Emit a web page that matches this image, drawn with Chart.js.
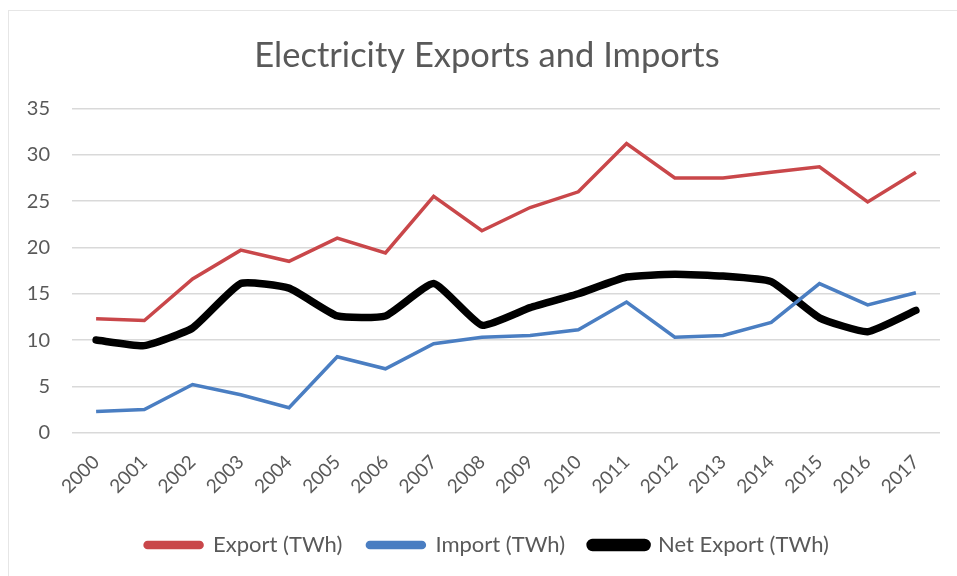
<!DOCTYPE html>
<html>
<head>
<meta charset="utf-8">
<script src="https://cdn.jsdelivr.net/npm/chart.js@4"></script>
<style>
  html, body { margin: 0; padding: 0; background: #fff; overflow: hidden; }
  #wrap { width: 957px; height: 576px; position: relative; }
  #frame { position: absolute; left: 8px; top: 10px; width: 980px; height: 600px;
           border: 1px solid #e6e6e6; box-sizing: border-box; pointer-events: none; }
</style>
</head>
<body>
<div id="wrap"><canvas id="chart"></canvas><div id="frame"></div></div>
<script>
const years = ['2000', '2001', '2002', '2003', '2004', '2005', '2006', '2007', '2008',
    '2009', '2010', '2011', '2012', '2013', '2014', '2015', '2016', '2017'];
const exportTWh = [12.3, 12.1, 16.6, 19.7, 18.5, 21.0, 19.4, 25.5, 21.8,
    24.3, 26.0, 31.2, 27.5, 27.5, 28.1, 28.7, 24.9, 28.1];
const importTWh = [2.3, 2.5, 5.2, 4.1, 2.7, 8.2, 6.9, 9.6, 10.3,
    10.5, 11.1, 14.1, 10.3, 10.5, 11.9, 16.1, 13.8, 15.1];
const netExportTWh = [10.0, 9.4, 11.3, 16.1, 15.6, 12.6, 12.6, 16.1, 11.6,
    13.5, 15.0, 16.8, 17.1, 16.9, 16.3, 12.4, 10.9, 13.2];
const yTicks = [0, 5, 10, 15, 20, 25, 30, 35];

const FONT = 'Lato, "Open Sans", sans-serif';
const textColor = '#595959';

const ctx = document.getElementById('chart').getContext('2d');

new Chart(ctx, {
    type: 'line',
    data: {
        labels: years,
        datasets: [{
            label: 'Export (TWh)',
            data: exportTWh,
            borderColor: '#c9474a',
            backgroundColor: '#c9474a',
            borderWidth: 3.5,
            pointRadius: 0,
            tension: 0
        }, {
            label: 'Import (TWh)',
            data: importTWh,
            borderColor: '#4a7ec2',
            backgroundColor: '#4a7ec2',
            borderWidth: 3.5,
            pointRadius: 0,
            tension: 0
        }, {
            label: 'Net Export (TWh)',
            data: netExportTWh,
            borderColor: '#000000',
            backgroundColor: '#000000',
            borderWidth: 7.5,
            pointRadius: 0,
            tension: 0.15,
            borderJoinStyle: 'round',
            borderCapStyle: 'round'
        }]
    },
    options: {
        responsive: true,
        maintainAspectRatio: false,
        animation: false,
        layout: { padding: { top: 25, left: 17, right: 0, bottom: 10 } },
        plugins: {
            title: {
                display: true,
                text: 'Electricity Exports and Imports',
                color: textColor,
                font: { family: FONT, size: 34.5, weight: 'normal' },
                padding: { top: 10, bottom: 32 }
            },
            legend: {
                position: 'bottom',
                labels: {
                    color: textColor,
                    font: { family: FONT, size: 22 },
                    boxWidth: 57,
                    boxHeight: 5,
                    useBorderRadius: true,
                    borderRadius: 2.5,
                    padding: 25
                }
            },
            tooltip: { enabled: false }
        },
        scales: {
            x: {
                offset: true,
                grid: { display: false },
                border: { display: false },
                ticks: {
                    color: textColor,
                    font: { family: FONT, size: 19 },
                    minRotation: 45,
                    maxRotation: 45,
                    autoSkip: false,
                    padding: 10
                },
                afterFit: axis => {
                    axis.paddingLeft = 0;
                    axis.paddingRight = 17;
                    axis.height += 1;
                }
            },
            y: {
                min: 0,
                max: 35,
                afterBuildTicks: axis => { axis.ticks = yTicks.map(v => ({ value: v })); },
                afterFit: axis => { axis.width = 55; },
                grid: { color: '#d9d9d9', lineWidth: 1.5, drawTicks: false },
                border: { display: false },
                ticks: {
                    color: textColor,
                    font: { family: FONT, size: 20 },
                    padding: 22
                }
            }
        }
    }
});
</script>
</body>
</html>
